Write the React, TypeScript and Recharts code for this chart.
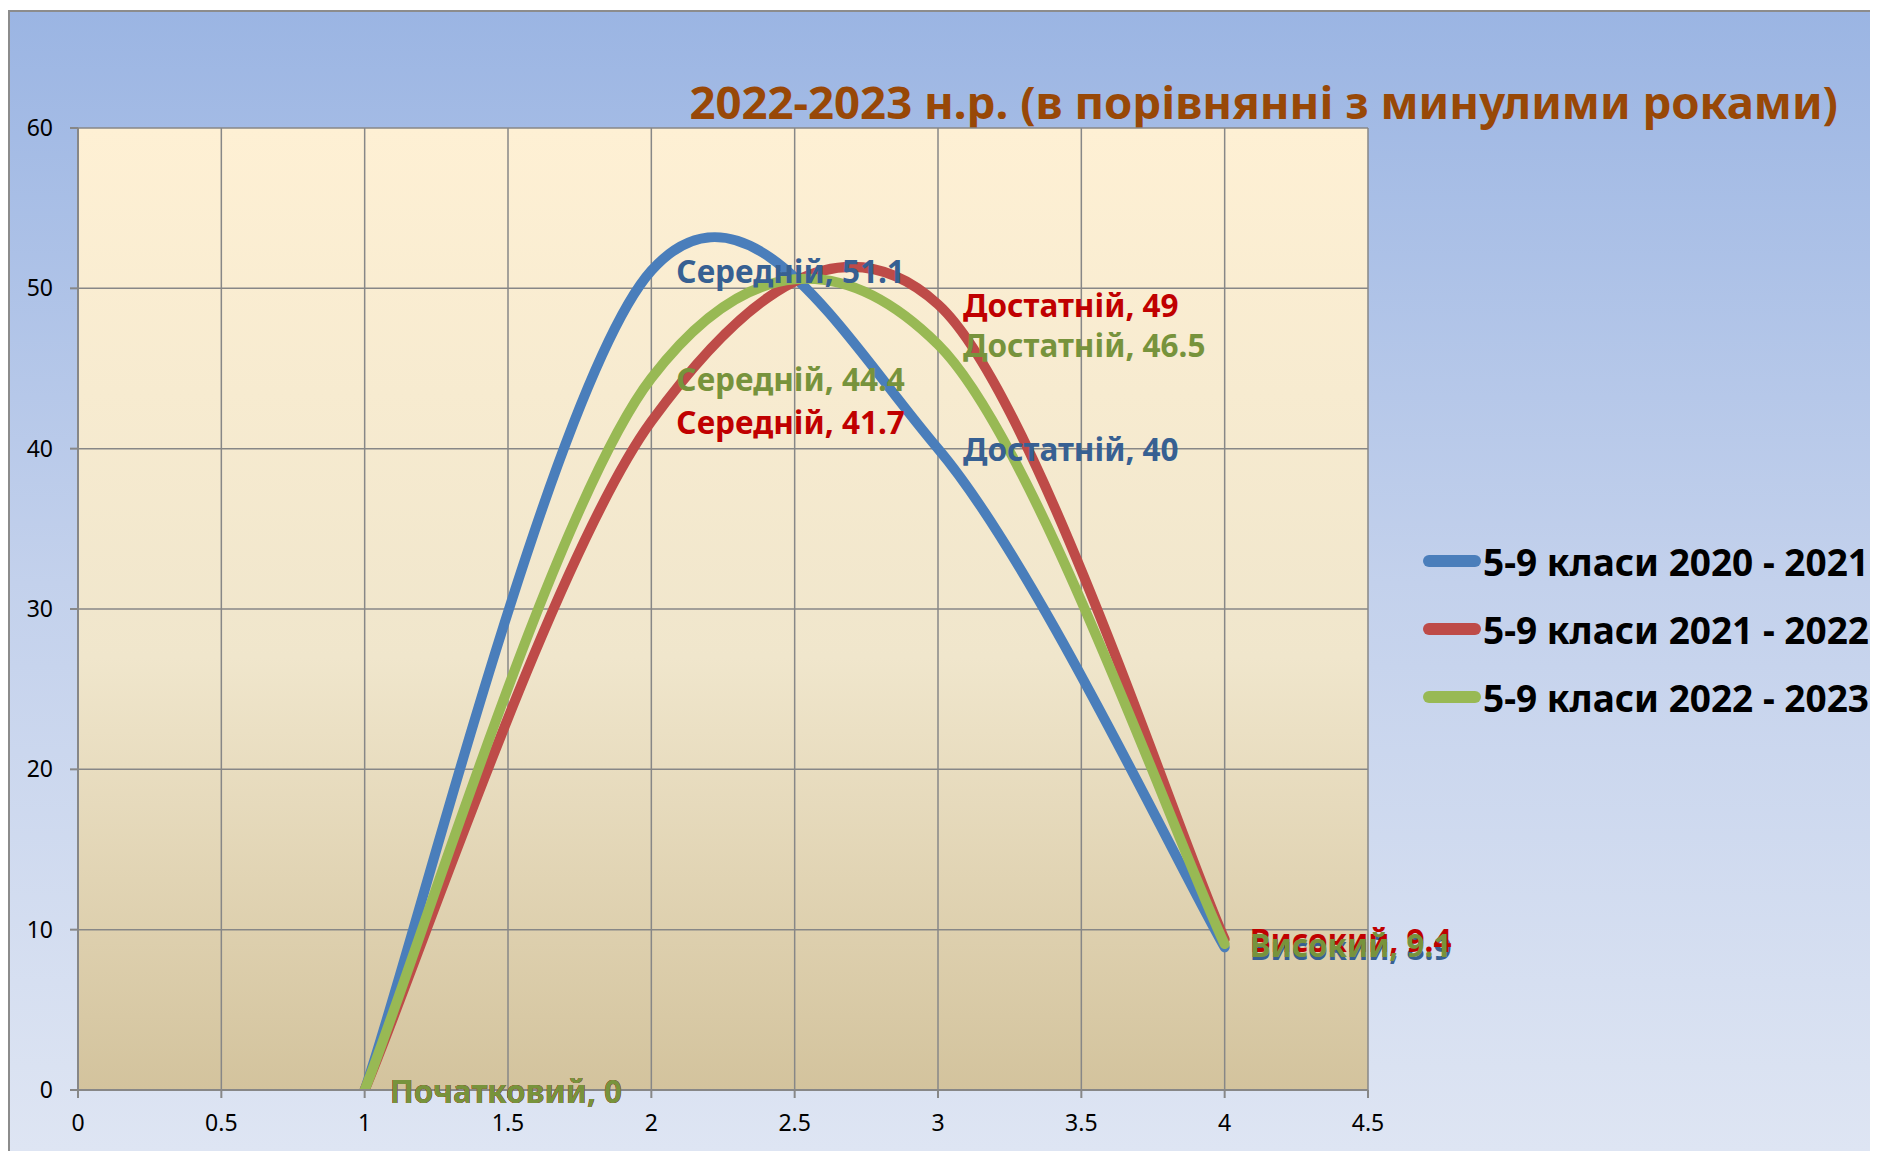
import { CartesianGrid, LabelList, Legend, Line, LineChart, XAxis, YAxis } from "recharts";

const xs = [1, 2, 3, 4];
const levels = ["Початковий", "Середній", "Достатній", "Високий"];
const s2021 = [0, 51.1, 40, 8.9];
const s2022 = [0, 41.7, 49, 9.4];
const s2023 = [0, 44.4, 46.5, 9.1];
const xTicks = [0, 0.5, 1, 1.5, 2, 2.5, 3, 3.5, 4, 4.5];
const yTicks = [0, 10, 20, 30, 40, 50, 60];

const series = [
    { key: "a", name: "5-9 класи 2020 - 2021", stroke: "#4A7EBB", label: "#376092" },
    { key: "b", name: "5-9 класи 2021 - 2022", stroke: "#BE4B48", label: "#C00000" },
    { key: "c", name: "5-9 класи 2022 - 2023", stroke: "#98B954", label: "#77933C" },
];

const data = xs.map((x, i) => ({ x, a: s2021[i], b: s2022[i], c: s2023[i] }));

const font = "'Noto Sans', 'Open Sans', sans-serif";

// Excel-like smoothing (Catmull-Rom through the points)
function excelSmooth(context: any) {
    let pts: number[][] = [];
    return {
        areaStart() {},
        areaEnd() {},
        lineStart() {
            pts = [];
        },
        point(x: number, y: number) {
            pts.push([+x, +y]);
        },
        lineEnd() {
            const n = pts.length;
            if (!n) return;
            context.moveTo(pts[0][0], pts[0][1]);
            for (let i = 0; i < n - 1; i++) {
                const p0 = pts[Math.max(0, i - 1)];
                const p1 = pts[i];
                const p2 = pts[i + 1];
                const p3 = pts[Math.min(n - 1, i + 2)];
                context.bezierCurveTo(
                    p1[0] + (p2[0] - p0[0]) / 6,
                    p1[1] + (p2[1] - p0[1]) / 6,
                    p2[0] - (p3[0] - p1[0]) / 6,
                    p2[1] - (p3[1] - p1[1]) / 6,
                    p2[0],
                    p2[1]
                );
            }
        },
    };
}

const makeLabel = (color: string) => (props: any) => {
    const { x, y, value, index } = props;
    return (
        <text x={x + 25} y={y} dominantBaseline="central" fill={color} fontSize={31.5} fontWeight={700} fontFamily={font}>
            {levels[index]}, {value}
        </text>
    );
};

function LegendBox() {
    return (
        <div style={{ fontFamily: font }}>
            {series.map((s) => (
                <div key={s.key} style={{ display: "flex", alignItems: "center", height: 68 }}>
                    <div style={{ width: 58, height: 12, borderRadius: 6, background: s.stroke, marginRight: 2 }} />
                    <span style={{ fontSize: 37, fontWeight: 700, color: "#000", whiteSpace: "nowrap" }}>{s.name}</span>
                </div>
            ))}
        </div>
    );
}

export default function App() {
    return (
        <div
            style={{
                position: "relative",
                width: 1870,
                height: 1141,
                marginTop: 2,
                borderTop: "2px solid #8c8c8c",
                borderLeft: "2px solid #8c8c8c",
                boxSizing: "border-box",
                background: "linear-gradient(180deg, #9BB5E3 0%, #C3D1EC 50%, #DEE5F3 100%)",
                overflow: "hidden",
            }}
        >
            <div
                style={{
                    position: "absolute",
                    right: 40,
                    top: 58,
                    fontFamily: font,
                    fontSize: 45.5,
                    fontWeight: 700,
                    color: "#984807",
                    whiteSpace: "nowrap",
                }}
            >
                2022-2023 н.р. (в порівнянні з минулими роками)
            </div>
            <LineChart width={1868} height={1139} data={data} margin={{ top: 116, right: 510, bottom: 11, left: 6 }}>
                <defs>
                    <linearGradient id="plotFill" x1="0" y1="0" x2="0" y2="1">
                        <stop offset="0%" stopColor="#FEF0D4" />
                        <stop offset="55%" stopColor="#F0E6CC" />
                        <stop offset="100%" stopColor="#D3C39D" />
                    </linearGradient>
                </defs>
                <CartesianGrid fill="url(#plotFill)" fillOpacity={1} stroke="#878787" strokeWidth={1.5} />
                <XAxis
                    type="number"
                    dataKey="x"
                    domain={[0, 4.5]}
                    ticks={xTicks}
                    interval={0}
                    height={50}
                    tickSize={8}
                    tickMargin={17}
                    stroke="#878787"
                    strokeWidth={2}
                    tick={{ fill: "#000", fontSize: 23, fontFamily: font }}
                />
                <YAxis
                    type="number"
                    domain={[0, 60]}
                    ticks={yTicks}
                    allowDataOverflow
                    width={62}
                    tickSize={8}
                    tickMargin={17}
                    stroke="#878787"
                    strokeWidth={2}
                    tick={{ fill: "#000", fontSize: 23, fontFamily: font }}
                />
                {series.map((s) => (
                    <Line
                        key={s.key}
                        dataKey={s.key}
                        name={s.name}
                        type={excelSmooth as any}
                        stroke={s.stroke}
                        strokeWidth={10}
                        strokeLinecap="round"
                        strokeLinejoin="round"
                        dot={false}
                        activeDot={false}
                        isAnimationActive={false}
                    />
                ))}
                {series.map((s) => (
                    <Line
                        key={"lbl-" + s.key}
                        dataKey={s.key}
                        stroke="none"
                        dot={false}
                        activeDot={false}
                        legendType="none"
                        isAnimationActive={false}
                    >
                        <LabelList dataKey={s.key} content={makeLabel(s.label)} />
                    </Line>
                ))}
                <Legend
                    layout="vertical"
                    align="center"
                    verticalAlign="middle"
                    content={() => <LegendBox />}
                    wrapperStyle={{ left: 1413, top: 515, width: 460 }}
                />
            </LineChart>
        </div>
    );
}
